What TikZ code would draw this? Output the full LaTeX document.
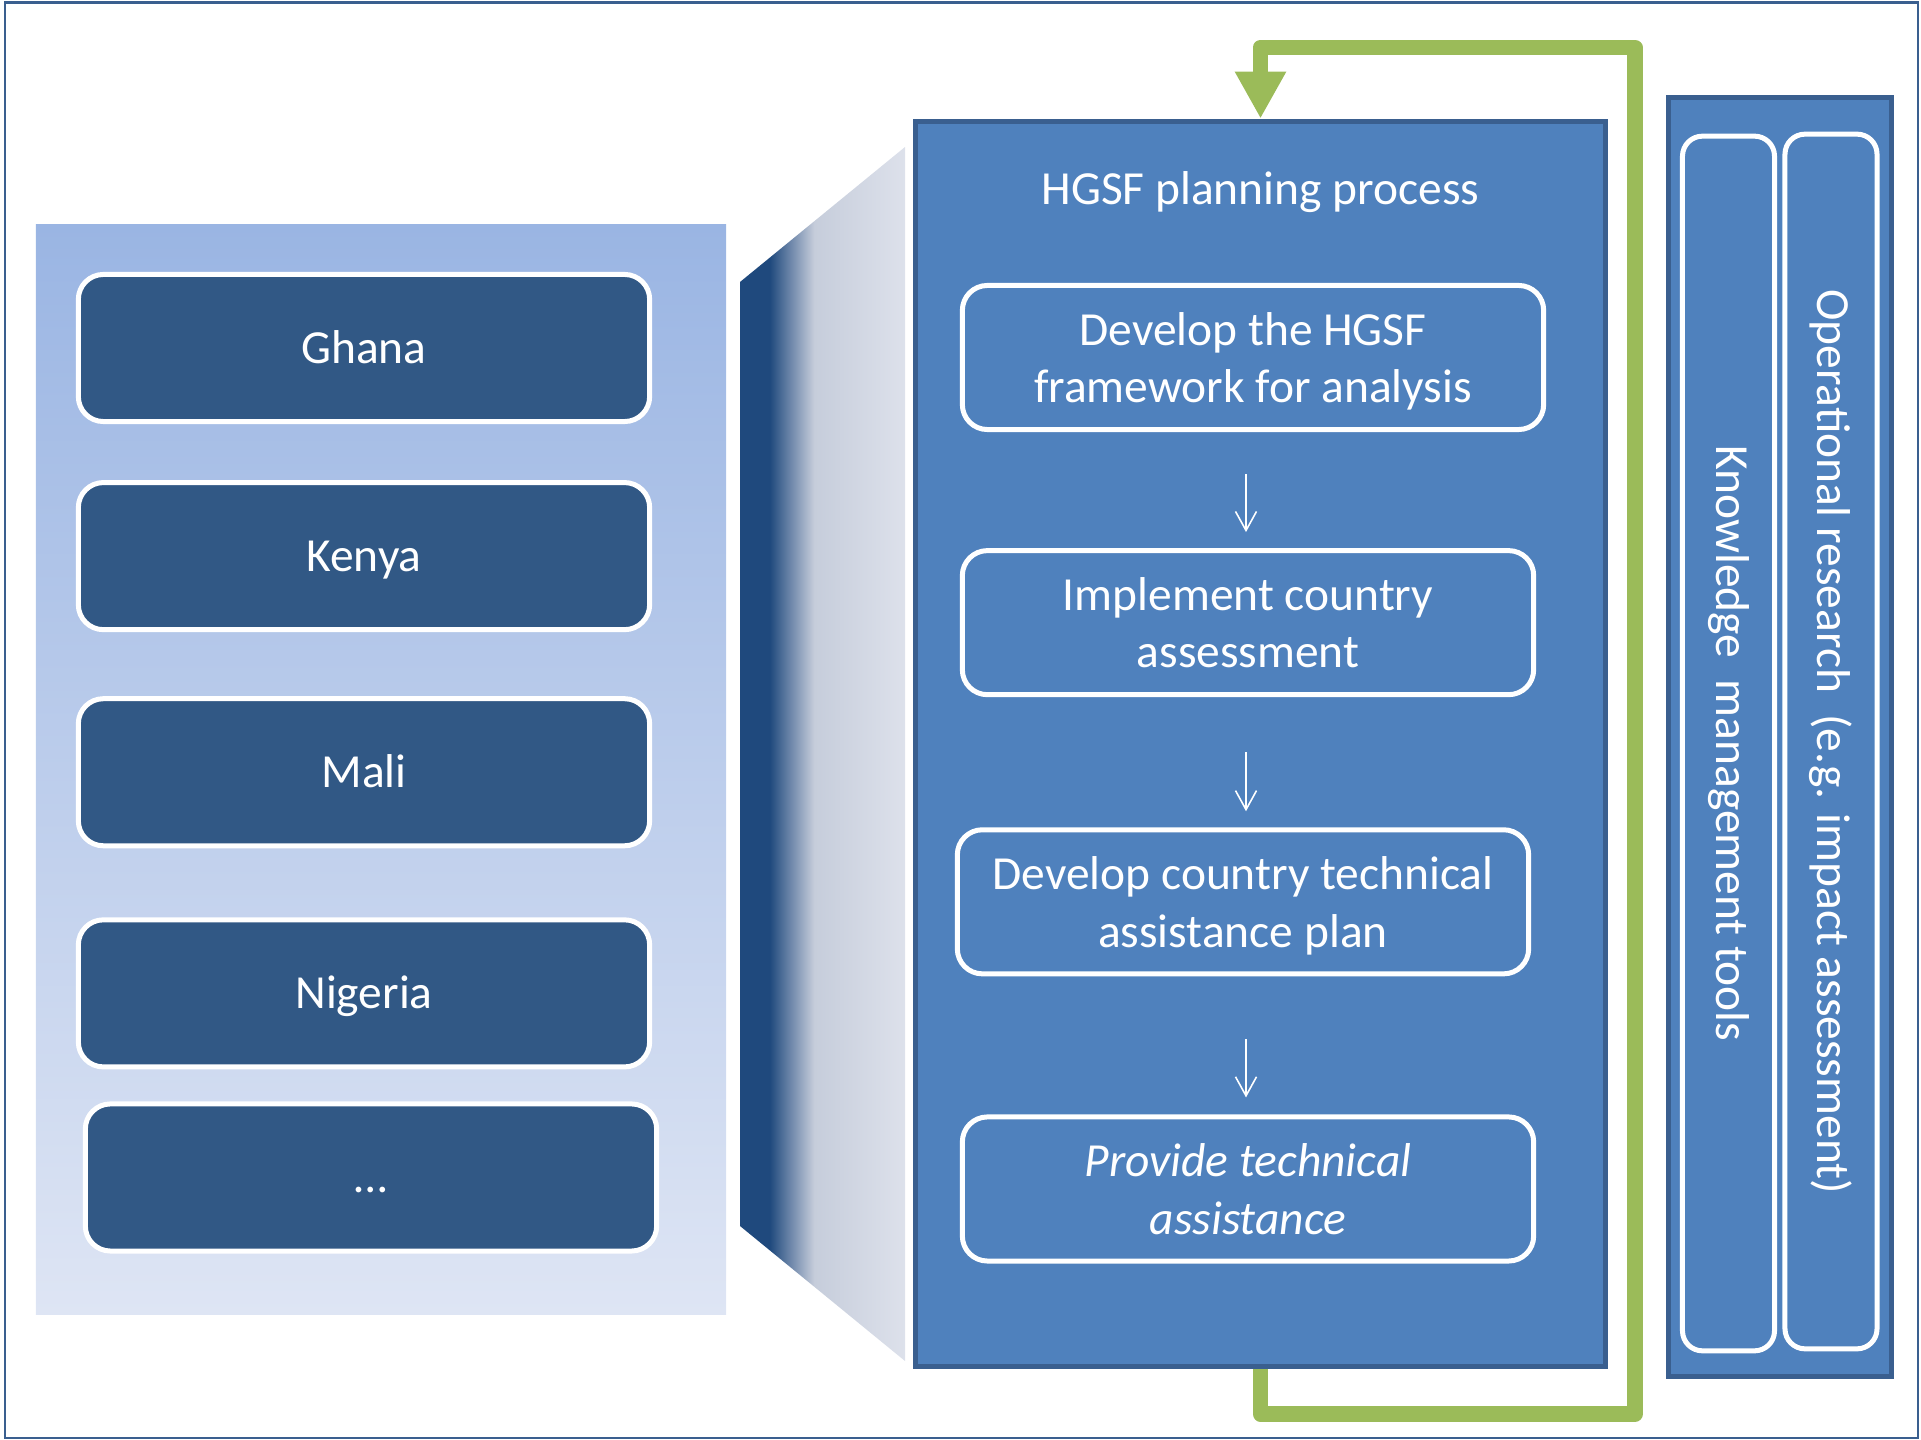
\documentclass[tikz,border=0pt]{standalone}
\usepackage{fontspec}
\setmainfont{Carlito}
\usetikzlibrary{positioning, arrows.meta}

\definecolor{darkbox}{HTML}{315885}
\definecolor{midblue}{HTML}{4F81BD}
\definecolor{edgeblue}{HTML}{3A5F8F}
\definecolor{loopgreen}{HTML}{9BBB59}
\definecolor{fadetop}{HTML}{9AB5E3}
\definecolor{fadebottom}{HTML}{DEE5F4}
\definecolor{wedgedark}{HTML}{1F497D}
\definecolor{wedgemid}{HTML}{6A84A8}
\definecolor{wedgegrey}{HTML}{C6CDDB}
\definecolor{wedgelight}{HTML}{DDE1EB}

\pgfdeclarehorizontalshading{wedge}{100bp}{color(0bp)=(wedgedark); color(25bp)=(wedgedark); color(34bp)=(wedgedark); color(40bp)=(wedgemid); color(47.5bp)=(wedgegrey); color(75bp)=(wedgelight); color(100bp)=(wedgelight)}

\tikzset{
  every node/.style={font=\fontsize{13.5}{16.4}\selectfont, text=white},
  country/.style={draw=white, line width=0.05cm, rounded corners=0.25cm, fill=darkbox, minimum width=5.71cm, minimum height=1.47cm, text height=8.7pt, text depth=0pt},
  process/.style={draw=white, line width=0.05cm, rounded corners=0.25cm, fill=midblue, align=center, minimum height=1.44cm, text depth=0pt},
  bigbox/.style={draw=edgeblue, line width=0.05cm, fill=midblue},
  tool/.style={draw=white, line width=0.05cm, rounded corners=0.2cm, fill=midblue, rotate=-90, minimum width=12.14cm, minimum height=0.92cm},
  flowarrow/.style={draw=white, line width=0.45pt, -{Straight Barb[length=0.19cm, width=0.21cm]}},
  feedback/.style={draw=loopgreen, line width=0.155cm, line join=round, -{Triangle[length=0.47cm, width=0.48cm]}}
}

\begin{document}
\begin{tikzpicture}[x=0.01cm, y=-0.01cm]
        \useasboundingbox (0,0) rectangle (1921,1440);
        \draw[edgeblue, line width=0.025cm] (5,2.5) rectangle (1918,1438);

        \node[top color=fadetop, bottom color=fadebottom, minimum width=6.9cm, minimum height=10.89cm, inner sep=0pt, outer sep=0pt] (countries) at (381,769.5) {};

        \node[country] (country 1) at (364,348) {Ghana};
        \node[country, below=0.56cm of country 1] (country 2) {Kenya};
        \node[country, below=0.64cm of country 2] (country 3) {Mali};
        \node[country, below=0.69cm of country 3] (country 4) {Nigeria};
        \node[country, below=0.32cm of country 4, xshift=0.07cm] (country 5) {…};

        \shade[shading=wedge] (740,282) -- (905,147) -- (905,1361) -- (740,1226) -- cycle;

        \node[bigbox, minimum width=6.90cm, minimum height=12.45cm] (panel) at (1260.5,744) {};
        \node (title) at ([yshift=-0.735cm]panel.north) {HGSF planning process};

        \node[process, minimum width=5.81cm] (step 1) at (1253,357.5) {Develop the HGSF\\framework for analysis};
        \node[process, minimum width=5.71cm, below=1.16cm of step 1, xshift=-0.05cm] (step 2) {Implement country\\assessment};
        \node[process, minimum width=5.71cm, below=1.30cm of step 2, xshift=-0.05cm] (step 3) {Develop country technical\\assistance plan};
        \node[process, minimum width=5.71cm, below=1.38cm of step 3, xshift=0.05cm, font=\fontsize{13.5}{16.4}\selectfont\itshape] (step 4) {Provide technical\\assistance};

        \coordinate (axis) at (1246,0);
        \foreach \i/\j/\s/\e in {1/2/0.42/0.16, 2/3/0.55/0.16, 3/4/0.63/0.17}
        \draw[flowarrow, shorten <=\s cm, shorten >=\e cm] (step \i.south -| axis) -- (step \j.north -| axis);

        \coordinate (loop low) at (1635,1414);
        \coordinate (loop high) at (1635,47.5);
        \draw[feedback] (panel.south) |- (loop low) -- (loop high) -| (panel.north);

        \node[bigbox, minimum width=2.23cm, minimum height=12.79cm] (side) at (1780,737) {};
        \node[tool] (tools) at (1728.5,743.5) {Knowledge~ management tools};
        \node[tool] (research) at (1831,741.5) {Operational research~ (e.g. impact assessment)};
\end{tikzpicture}
\end{document}
